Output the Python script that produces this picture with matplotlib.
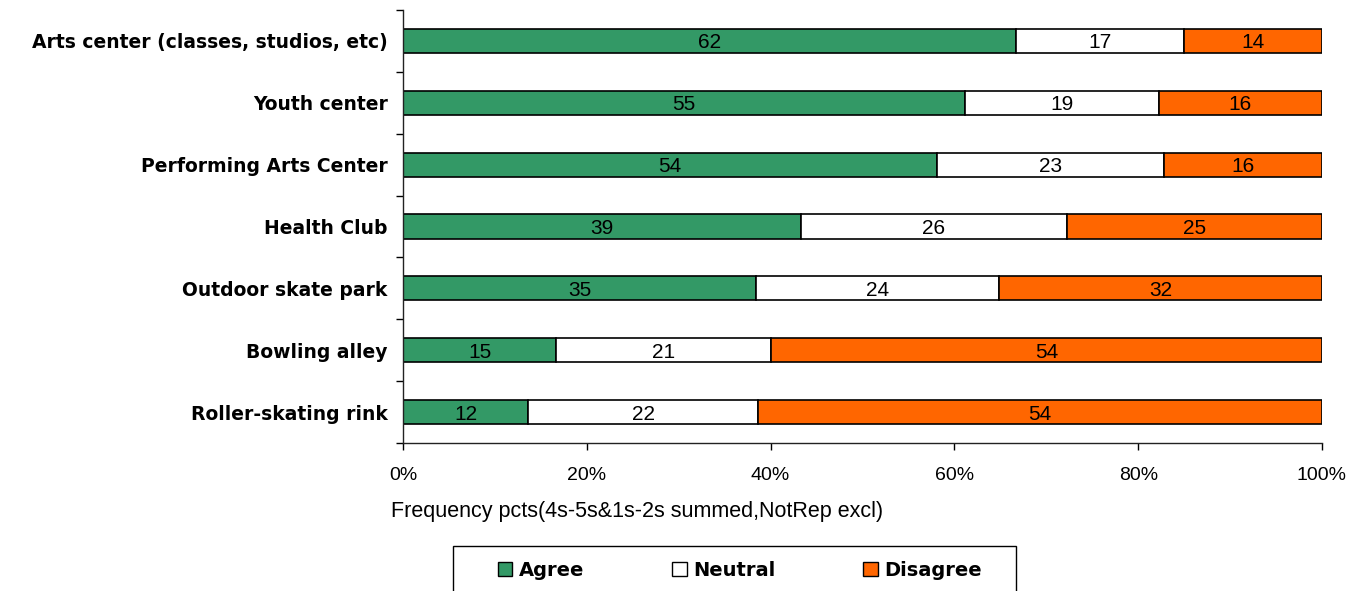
import numpy as np
import matplotlib
matplotlib.use('Agg')
import matplotlib.pyplot as plt
from matplotlib.patches import Patch, Rectangle

# survey items, top to bottom
categories = [
    'Arts center (classes, studios, etc)',
    'Youth center',
    'Performing Arts Center',
    'Health Club',
    'Outdoor skate park',
    'Bowling alley',
    'Roller-skating rink',
]
agree    = [62, 55, 54, 39, 35, 15, 12]
neutral  = [17, 19, 23, 26, 24, 21, 22]
disagree = [14, 16, 16, 25, 32, 54, 54]

series_names  = ['Agree', 'Neutral', 'Disagree']
series_colors = ['#339966', '#FFFFFF', '#FF6600']
xtick_vals    = [0, 20, 40, 60, 80, 100]
x_title       = 'Frequency pcts(4s-5s&1s-2s summed,NotRep excl)'

SANS = ['Liberation Sans', 'DejaVu Sans']
WIDE = ['DejaVu Sans']   # wider bold face for the category and legend labels

counts = np.array([agree, neutral, disagree], dtype=float)
pcts   = counts / counts.sum(axis=0) * 100

fig = plt.figure(figsize=(13.59, 5.91), dpi=100)
ax = fig.add_axes([403/1359, 1 - 443/591, 919/1359, 433/591])

y = np.arange(len(categories))
left = np.zeros(len(categories))
for i in range(3):
    bars = ax.barh(y, pcts[i], left=left, height=0.39,
                   color=series_colors[i], edgecolor='black', linewidth=1.2)
    for j, b in enumerate(bars):
        ax.text(left[j] + pcts[i][j] / 2, y[j], f'{int(counts[i][j])}',
                ha='center', va='center_baseline', fontsize=15, family=SANS)
    left += pcts[i]

ax.set_xlim(0, 100)
ax.set_ylim(len(categories) - 0.5, -0.5)

ax.set_xticks(xtick_vals)
ax.set_xticklabels([f'{v}%' for v in xtick_vals], family=SANS, fontsize=14)
ax.tick_params(axis='x', length=5, width=1, pad=12)

ax.set_yticks(y)
ax.set_yticklabels(categories, fontweight='bold', fontsize=13.5, family=WIDE)
ax.set_yticks(np.arange(-0.5, len(categories)), minor=True)
ax.tick_params(axis='y', which='major', length=0, pad=11)
ax.tick_params(axis='y', which='minor', length=5, width=1)

for s in ['top', 'right']:
    ax.spines[s].set_visible(False)
for s in ['left', 'bottom']:
    ax.spines[s].set_linewidth(1)
    ax.spines[s].set_color('#222222')

fig.text(391/1359, 1 - 512/591, x_title, ha='left', va='center',
         fontsize=15.5, family=SANS)

# legend box runs off the bottom edge, so draw the frame by hand
fig.patches.append(Rectangle((453/1359, -0.05), 563/1359, 0.05 + 1 - 546/591,
                             transform=fig.transFigure, facecolor='none',
                             edgecolor='black', linewidth=1))

handles = [Patch(facecolor=c, edgecolor='black', linewidth=1) for c in series_colors]
leg = fig.legend(handles, series_names, ncol=3, loc='center',
                 bbox_to_anchor=(740/1359, 1 - 570/591),
                 frameon=False, handlelength=0.75, handleheight=0.75,
                 handletextpad=0.35, columnspacing=4.5,
                 borderpad=0, borderaxespad=0,
                 prop={'family': WIDE, 'weight': 'bold', 'size': 14})

fig.savefig('out.png', dpi=100)
